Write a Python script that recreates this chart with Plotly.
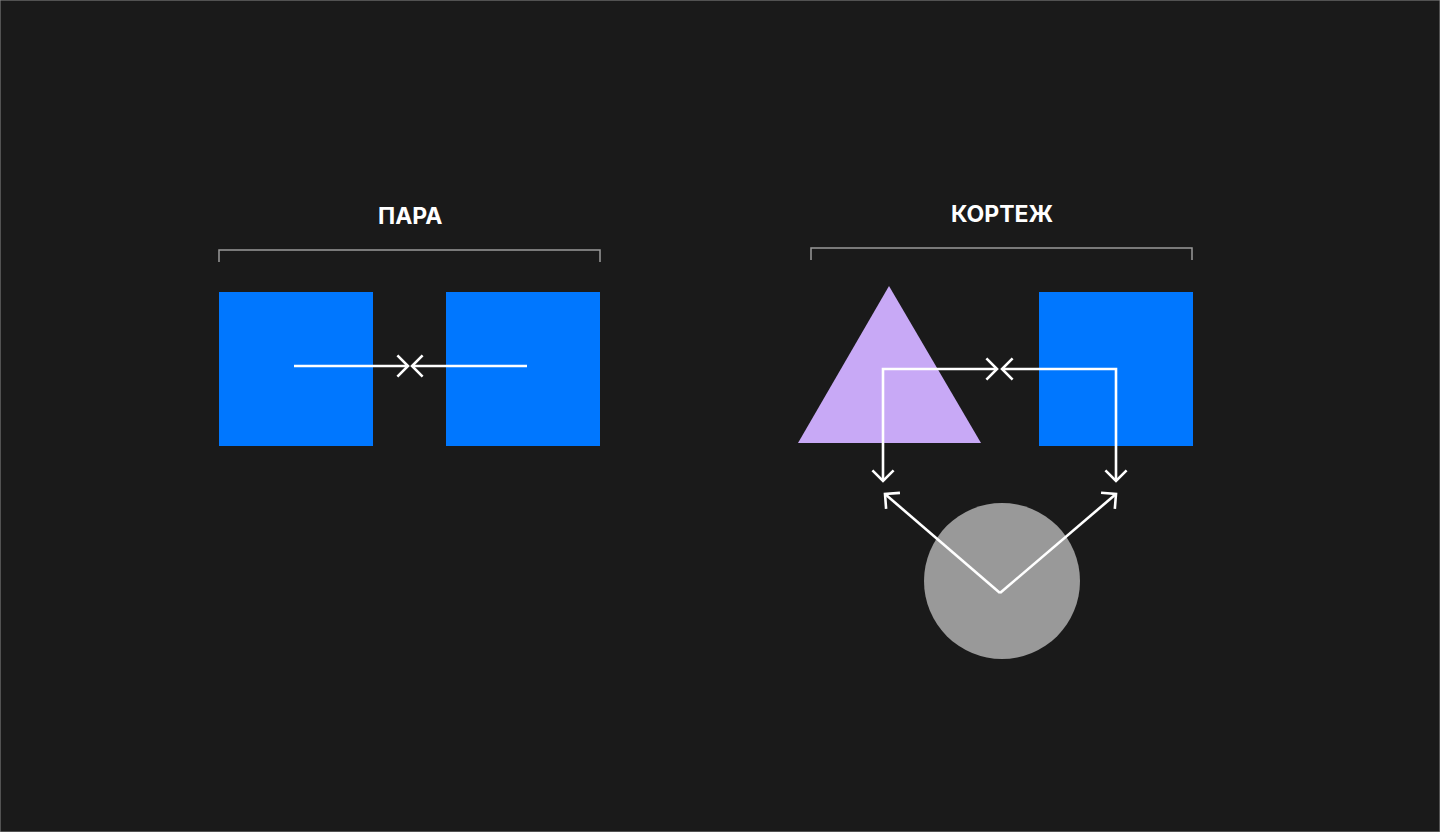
import plotly.graph_objects as go

# Canvas in pixels
W, H = 1440, 832

BG = "#1a1a1a"
BLUE = "#0077ff"
LILAC = "#c8a9f6"
GREY = "#999999"
WHITE = "#ffffff"

# Group titles and brackets
titles = ["ПАРА", "КОРТЕЖ"]
title_x = [410, 1002]
title_y = [216, 214]
bracket_x0 = [219, 811]
bracket_x1 = [600, 1192]
bracket_y = [250, 248]

# Blue squares (x0, y0, x1, y1)
squares = [(219, 292, 373, 446), (446, 292, 600, 446), (1039, 292, 1193, 446)]

# Triangle and circle of the tuple
triangle_x = [889, 981, 798]
triangle_y = [286, 443, 443]
circle_center = (1002, 581)
circle_r = 78

# Arrow paths: list of points, heads at the listed ends
arrows = [
    {"path": [(294, 366), (408, 366)], "heads": ["end"]},
    {"path": [(527, 366), (412, 366)], "heads": ["end"]},
    {"path": [(883, 481), (883, 369), (997, 369)], "heads": ["start", "end"]},
    {"path": [(1116, 481), (1116, 369), (1002, 369)], "heads": ["start", "end"]},
    {"path": [(1000, 593), (885, 494)], "heads": ["end"]},
    {"path": [(1000, 593), (1116, 494)], "heads": ["end"]},
]

ARM = 15


def chevron(tip, prev):
    """Open arrowhead (two arms) at tip, coming from prev"""
    dx, dy = tip[0] - prev[0], tip[1] - prev[1]
    n = (dx ** 2 + dy ** 2) ** 0.5
    ux, uy = dx / n, dy / n
    c, s = 0.7071, 0.7071
    a1 = (tip[0] - ARM * (ux * c - uy * s), tip[1] - ARM * (uy * c + ux * s))
    a2 = (tip[0] - ARM * (ux * c + uy * s), tip[1] - ARM * (uy * c - ux * s))
    return [a1, tip, a2]


fig = go.Figure()

# Brackets
for x0, x1, y in zip(bracket_x0, bracket_x1, bracket_y):
    fig.add_trace(go.Scatter(
        x=[x0, x0, x1, x1], y=[y + 12, y, y, y + 12],
        mode="lines", line=dict(color="#9a9a9a", width=1.5),
        hoverinfo="skip", showlegend=False))

# Squares
for x0, y0, x1, y1 in squares:
    fig.add_shape(type="rect", x0=x0, y0=y0, x1=x1, y1=y1,
                  fillcolor=BLUE, line=dict(width=0), layer="below")

# Triangle
fig.add_trace(go.Scatter(
    x=triangle_x + [triangle_x[0]], y=triangle_y + [triangle_y[0]],
    mode="lines", fill="toself", fillcolor=LILAC, line=dict(width=0),
    hoverinfo="skip", showlegend=False))

# Circle
cx, cy = circle_center
fig.add_shape(type="circle", x0=cx - circle_r, y0=cy - circle_r,
              x1=cx + circle_r, y1=cy + circle_r,
              fillcolor=GREY, line=dict(width=0), layer="below")

# Arrows
for a in arrows:
    pts = a["path"]
    fig.add_trace(go.Scatter(
        x=[p[0] for p in pts], y=[p[1] for p in pts],
        mode="lines", line=dict(color=WHITE, width=2.6),
        hoverinfo="skip", showlegend=False))
    for h in a["heads"]:
        if h == "end":
            head = chevron(pts[-1], pts[-2])
        else:
            head = chevron(pts[0], pts[1])
        fig.add_trace(go.Scatter(
            x=[p[0] for p in head], y=[p[1] for p in head],
            mode="lines", line=dict(color=WHITE, width=2.6),
            hoverinfo="skip", showlegend=False))

# Titles
for t, x, y in zip(titles, title_x, title_y):
    fig.add_annotation(x=x, y=y, text="<b>" + t + "</b>", showarrow=False,
                       font=dict(family="Inter", size=23, color=WHITE),
                       xanchor="center", yanchor="middle")

# Thin frame
fig.add_shape(type="rect", xref="paper", yref="paper", x0=0, y0=0, x1=1, y1=1,
              line=dict(color="#8a8a8a", width=1))

fig.update_layout(
    width=W, height=H,
    margin=dict(l=0, r=0, t=0, b=0),
    paper_bgcolor=BG, plot_bgcolor=BG,
    xaxis=dict(range=[0, W], visible=False, fixedrange=True),
    yaxis=dict(range=[H, 0], visible=False, fixedrange=True),
    showlegend=False,
)

# страница без отступов, чтобы холст лёг ровно в окно
fig.write_html("out.html", config={"displayModeBar": False},
               post_script="document.body.style.margin='0';")
